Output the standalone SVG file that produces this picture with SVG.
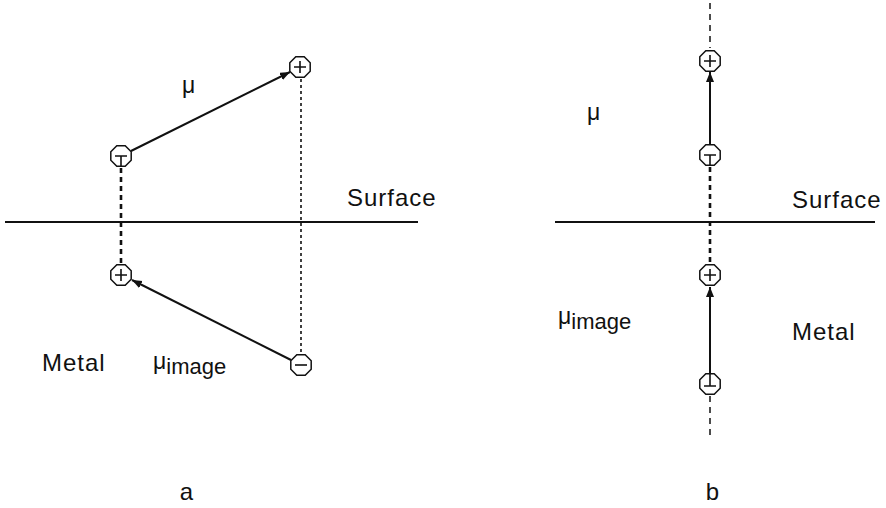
<svg xmlns="http://www.w3.org/2000/svg" width="886" height="508" viewBox="0 0 886 508">
<style>
text{font-family:"Liberation Sans",Arial,sans-serif;fill:#111}
.lbl{font-size:24px;letter-spacing:1px}
.mu{font-size:23px}
.oct{fill:#fff;stroke:#111;stroke-width:1.5}
.sign{stroke:#111;stroke-width:1.6;fill:none}
.arrow{stroke:#111;stroke-width:2;fill:none;marker-end:url(#ah)}
.thick{stroke:#111;stroke-width:2.6;stroke-dasharray:5 4;fill:none}
.dot{stroke:#111;stroke-width:1.6;stroke-dasharray:3 3;fill:none}
.thin{stroke:#111;stroke-width:1.5;stroke-dasharray:6 5;fill:none}
.surf{stroke:#111;stroke-width:2;fill:none}
</style>
<defs>
<marker id="ah" markerUnits="userSpaceOnUse" markerWidth="12" markerHeight="10" refX="10" refY="4" orient="auto">
<path d="M0,0 L10,4 L0,8 Z" fill="#111"/>
</marker>
<polygon id="octa" points="10.2,4.2 4.2,10.2 -4.2,10.2 -10.2,4.2 -10.2,-4.2 -4.2,-10.2 4.2,-10.2 10.2,-4.2"/>
</defs>
<g id="connectors">
<line class="surf" x1="5" y1="222" x2="418" y2="222"/>
<line class="surf" x1="555" y1="222" x2="875" y2="222"/>
<line class="thick" x1="121" y1="168" x2="121" y2="263"/>
<line class="dot" x1="301" y1="79" x2="301" y2="353"/>
<line class="arrow" x1="131" y1="151" x2="290" y2="72"/>
<line class="arrow" x1="291" y1="360" x2="132" y2="280"/>
<line class="thin" x1="710" y1="3" x2="710" y2="48"/>
<line class="arrow" x1="710" y1="144" x2="710" y2="72"/>
<line class="thick" x1="710" y1="167" x2="710" y2="263"/>
<line class="arrow" x1="710" y1="373" x2="710" y2="287"/>
<line class="thin" x1="710" y1="396" x2="710" y2="440"/>
</g>
<g id="a_minus_top" transform="translate(121,156)">
<use href="#octa" class="oct"/><path class="sign" d="M-6,0 H6 M0,0 V10"/>
</g>
<g id="a_plus_top" transform="translate(300,67)">
<use href="#octa" class="oct"/><path class="sign" d="M-6,0 H6 M0,-6 V6"/>
</g>
<g id="a_plus_bottom" transform="translate(121,275)">
<use href="#octa" class="oct"/><path class="sign" d="M-6,0 H6 M0,-6 V6"/>
</g>
<g id="a_minus_bottom" transform="translate(301,365)">
<use href="#octa" class="oct"/><path class="sign" d="M-6,0 H6"/>
</g>
<g id="b_plus_top" transform="translate(710,61)">
<use href="#octa" class="oct"/><path class="sign" d="M-6,0 H6 M0,-6 V6"/>
</g>
<g id="b_minus_top" transform="translate(710,155)">
<use href="#octa" class="oct"/><path class="sign" d="M-6,0 H6 M0,0 V10"/>
</g>
<g id="b_plus_bottom" transform="translate(710,275)">
<use href="#octa" class="oct"/><path class="sign" d="M-6,0 H6 M0,-6 V6"/>
</g>
<g id="b_minus_bottom" transform="translate(710,384)">
<use href="#octa" class="oct"/><path class="sign" d="M-6,2 H6 M0,-10 V2"/>
</g>
<g id="labels">
<text class="mu" x="182" y="93">μ</text>
<text class="lbl" x="347" y="206">Surface</text>
<text class="lbl" x="42" y="371">Metal</text>
<text class="mu" x="153" y="369">μ<tspan dy="5" font-size="22">image</tspan></text>
<text class="lbl" x="187" y="500" text-anchor="middle" font-size="22">a</text>
<text class="mu" x="587" y="120">μ</text>
<text class="lbl" x="792" y="208">Surface</text>
<text class="mu" x="558" y="324">μ<tspan dy="5" font-size="22">image</tspan></text>
<text class="lbl" x="792" y="340">Metal</text>
<text class="lbl" x="713" y="500" text-anchor="middle" font-size="22">b</text>
</g>
</svg>
